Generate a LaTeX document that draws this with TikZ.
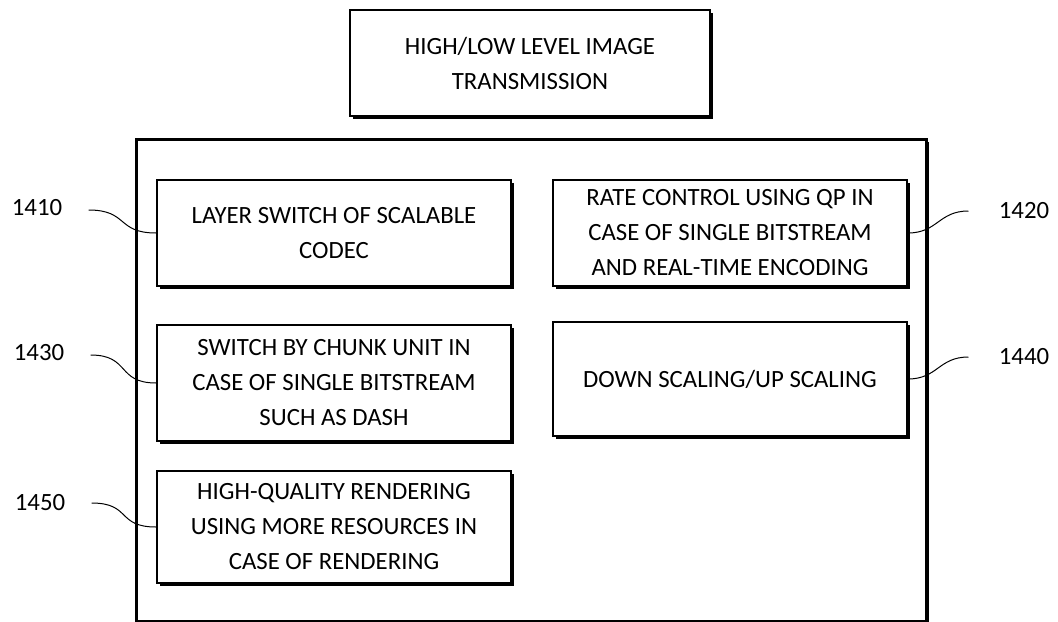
\documentclass[tikz,border=0pt]{standalone}
\usepackage{fontspec}
\setmainfont{Carlito}
\usetikzlibrary{positioning,shadows}

\begin{document}
\begin{tikzpicture}[x=0.5pt,y=-0.5pt,
 box/.style={draw,line width=0.8pt,fill=white,align=center,inner sep=0pt,minimum width=177pt,
  font=\fontsize{12.4}{17.5}\selectfont,drop shadow={shadow xshift=1.6pt,shadow yshift=-1.6pt,fill=black,opacity=1}},
 num/.style={font=\fontsize{12.4}{15}\selectfont,inner sep=0pt},
 lead/.style={line width=0.5pt}]
\useasboundingbox (0,0) rectangle (1058,621);
\node[draw,line width=1.1pt,minimum width=395pt,minimum height=241pt,inner sep=0pt,
 drop shadow={shadow xshift=1.3pt,shadow yshift=-1.3pt,fill=black,opacity=1},fill=white] (frame) at (531.5,380.5) {};
\node[box,minimum width=180pt,minimum height=53pt] (top) at (530,63) {HIGH/LOW LEVEL IMAGE\\TRANSMISSION};
\node[box,minimum height=53pt] (b1410) at (334,233) {LAYER SWITCH OF SCALABLE\\CODEC};
\node[box,minimum height=53pt] (b1420) at (730,233) {RATE CONTROL USING QP IN\\CASE OF SINGLE BITSTREAM\\AND REAL-TIME ENCODING};
\node[box,minimum height=58pt] (b1430) at (334,383) {SWITCH BY CHUNK UNIT IN\\CASE OF SINGLE BITSTREAM\\SUCH AS DASH};
\node[box,minimum height=57pt] (b1440) at (730,379) {DOWN SCALING/UP SCALING};
\node[box,minimum height=56pt] (b1450) at (334,527) {HIGH-QUALITY RENDERING\\USING MORE RESOURCES IN\\CASE OF RENDERING};
% reference numerals
\node[num] (l1410) at (37,208) {1410};
\node[num] (l1420) at (1024,211) {1420};
\node[num] (l1430) at (39,353) {1430};
\node[num] (l1440) at (1024,357) {1440};
\node[num] (l1450) at (40,503) {1450};
\draw[lead] ([xshift=13pt,yshift=-1pt]l1410.east) .. controls +(40,0) and +(-40,0) .. (b1410.west);
\draw[lead] ([xshift=13pt,yshift=-1pt]l1430.east) .. controls +(40,0) and +(-40,0) .. (b1430.west);
\draw[lead] ([xshift=13pt]l1450.east) .. controls +(40,0) and +(-40,0) .. (b1450.west);
\draw[lead] ([xshift=-15pt]l1420.west) .. controls +(-30,0) and +(30,0) .. (b1420.east);
\draw[lead] ([xshift=-15pt]l1440.west) .. controls +(-30,0) and +(30,0) .. (b1440.east);
\end{tikzpicture}
\end{document}
